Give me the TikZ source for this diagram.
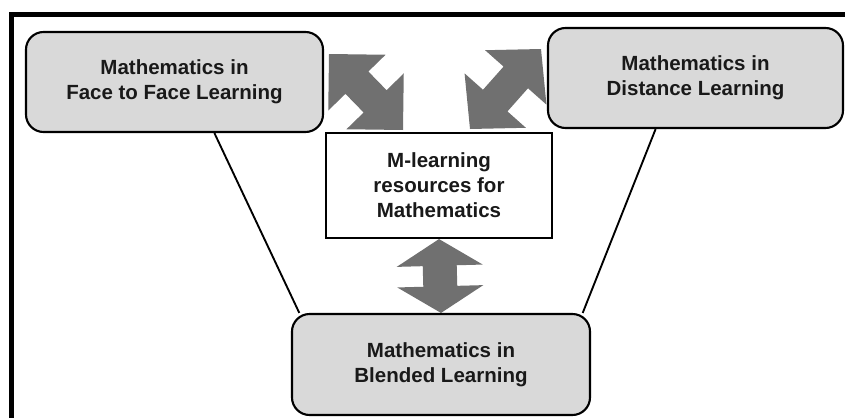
\documentclass[tikz,border=0pt]{standalone}
\usepackage{fontspec}
\setmainfont{Liberation Sans}
\usetikzlibrary{calc,backgrounds}
\definecolor{boxgray}{RGB}{217,217,217}
\definecolor{arrowgray}{RGB}{112,112,112}
\definecolor{textgray}{RGB}{25,25,25}

% double block arrow: from, to, head length, head half width, shaft half width
\newcommand{\blockarrow}[5]{%
  \fill[arrowgray] (#1)
    -- ($(#1)!#3!(#2)!#4!90:(#2)$) -- ($(#1)!#3!(#2)!#5!90:(#2)$)
    -- ($(#2)!#3!(#1)!#5!-90:(#1)$) -- ($(#2)!#3!(#1)!#4!-90:(#1)$)
    -- (#2)
    -- ($(#2)!#3!(#1)!#4!90:(#1)$) -- ($(#2)!#3!(#1)!#5!90:(#1)$)
    -- ($(#1)!#3!(#2)!#5!-90:(#2)$) -- ($(#1)!#3!(#2)!#4!-90:(#2)$)
    -- cycle;}

\begin{document}
\begin{tikzpicture}[x=0.03cm,y=-0.03cm,
  box/.style={draw=black,line width=1.8pt,rounded corners=15pt,fill=boxgray,
    align=center,text=textgray,font=\bfseries\fontsize{17.5}{21.3}\selectfont},
  midbox/.style={box,rounded corners=0pt,fill=white},
  link/.style={line width=1.6pt}]
\useasboundingbox (0,0) rectangle (845,417);

% outer frame
\draw[line width=4.3pt] (11.5,440) -- (11.5,14.5) -- (870,14.5);

% the four blocks
\node[box,minimum width=8.91cm,minimum height=3cm] (ftf) at (174.5,82) {Mathematics in\\Face to Face Learning};
\node[box,minimum width=8.85cm,minimum height=3cm] (dist) at (695.5,78) {Mathematics in\\Distance Learning};
\node[midbox,minimum width=6.78cm,minimum height=3.15cm] (mres) at (439,185.5) {M-learning\\resources for\\Mathematics};
\node[box,minimum width=8.94cm,minimum height=3.03cm] (blend) at (441,364.5) {Mathematics in\\Blended Learning};

% ends of the slanted arrows
\coordinate (la) at (329,54);
\coordinate (lb) at (403,130);
\coordinate (ra) at (541,49);
\coordinate (rb) at (470,129);

\begin{pgfonlayer}{background}
\draw[link] (ftf.-52) -- (blend.160);
\draw[link] (dist.-128.5) -- (blend.20);
\blockarrow{la}{lb}{1.2cm}{1.2cm}{0.48cm}
\blockarrow{ra}{rb}{1.14cm}{1.23cm}{0.49cm}
\blockarrow{mres.south}{blend.north}{0.8cm}{1.29cm}{0.51cm}
\end{pgfonlayer}
\end{tikzpicture}
\end{document}
